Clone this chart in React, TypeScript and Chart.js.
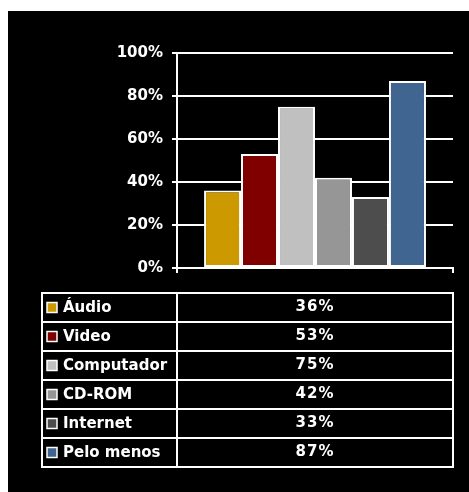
import React, { useEffect, useRef } from "react";
import { Chart, registerables } from "chart.js";

Chart.register(...registerables);

// Media access survey: share of respondents per media type
const categories = ["Áudio", "Video", "Computador", "CD-ROM", "Internet", "Pelo menos"];
const values = [36, 53, 75, 42, 33, 87];
const colors = ["#CC9900", "#800000", "#C0C0C0", "#969696", "#4D4D4D", "#3F6590"];
const yTicks = [0, 20, 40, 60, 80, 100];

const FONT = "'DejaVu Sans', Verdana, sans-serif";
const ROW_H = 29;
const TABLE_GAP = 25;
const TABLE_LEFT = 34;

// Data table drawn under the plot: legend key + value per series
const dataTablePlugin = {
  id: "dataTable",
  afterDraw(chart: Chart) {
    const { ctx, chartArea } = chart;
    const top = chartArea.bottom + TABLE_GAP;
    const left = TABLE_LEFT;
    const right = chartArea.right;
    const mid = chartArea.left;
    const n = categories.length;
    const bottom = top + n * ROW_H;
    ctx.save();
    ctx.strokeStyle = "#FFFFFF";
    ctx.lineWidth = 2;
    ctx.strokeRect(left, top, right - left, bottom - top);
    ctx.beginPath();
    for (let i = 1; i < n; i++) {
      ctx.moveTo(left, top + i * ROW_H);
      ctx.lineTo(right, top + i * ROW_H);
    }
    ctx.moveTo(mid, top);
    ctx.lineTo(mid, bottom);
    ctx.stroke();

    ctx.textBaseline = "middle";
    for (let i = 0; i < n; i++) {
      const cy = top + i * ROW_H + ROW_H / 2;
      // legend key
      ctx.fillStyle = colors[i];
      ctx.fillRect(left + 5, cy - 5, 10, 10);
      ctx.lineWidth = 1.5;
      ctx.strokeStyle = "#FFFFFF";
      ctx.strokeRect(left + 5, cy - 5, 10, 10);
      // series name
      ctx.fillStyle = "#FFFFFF";
      ctx.font = `bold 15px ${FONT}`;
      (ctx as any).letterSpacing = "0px";
      ctx.textAlign = "left";
      ctx.fillText(categories[i], left + 21, cy + 1);
      // value
      (ctx as any).letterSpacing = "1px";
      ctx.textAlign = "center";
      ctx.fillText(`${values[i]}%`, (mid + right) / 2, cy);
      (ctx as any).letterSpacing = "0px";
    }
    ctx.restore();
  },
};

export default function App() {
  const ref = useRef<HTMLCanvasElement>(null);

  useEffect(() => {
    if (!ref.current) return;
    const chart = new Chart(ref.current, {
      type: "bar",
      data: {
        labels: [""],
        datasets: categories.map((name, i) => ({
          label: name,
          data: [values[i]],
          backgroundColor: colors[i],
          borderColor: "#FFFFFF",
          borderWidth: 2,
          borderSkipped: false,
          categoryPercentage: 0.804,
          barPercentage: 1,
        })),
      },
      options: {
        responsive: false,
        animation: false,
        devicePixelRatio: 1,
        layout: { padding: { left: 0, top: 42, right: 16, bottom: 214 } },
        plugins: {
          legend: { display: false },
          tooltip: { enabled: false },
          title: { display: false },
        },
        scales: {
          x: {
            grid: {
              display: true,
              drawOnChartArea: false,
              drawTicks: true,
              tickLength: 5,
              color: "#FFFFFF",
              lineWidth: 2,
            },
            border: { display: true, color: "#FFFFFF", width: 2 },
            ticks: { display: false },
            afterFit: (s: any) => {
              s.height = 10;
            },
          },
          y: {
            min: 0,
            max: 100,
            afterBuildTicks: (s: any) => {
              s.ticks = yTicks.map((v) => ({ value: v }));
            },
            grid: {
              color: "#FFFFFF",
              lineWidth: 2,
              tickLength: 5,
            },
            border: { display: true, color: "#FFFFFF", width: 2 },
            ticks: {
              color: "#FFFFFF",
              padding: 9,
              font: { family: FONT, size: 15, weight: "bold" },
              callback: (v: any) => `${v}%`,
            },
            afterFit: (s: any) => {
              s.width = 169;
            },
          },
        },
      },
      plugins: [dataTablePlugin],
    });
    return () => chart.destroy();
  }, []);

  return (
    <div
      style={{
        position: "fixed",
        left: 8,
        top: 11,
        right: 0,
        bottom: 0,
        background: "#000000",
      }}
    >
      <canvas ref={ref} width={461} height={481} style={{ display: "block" }} />
    </div>
  );
}
